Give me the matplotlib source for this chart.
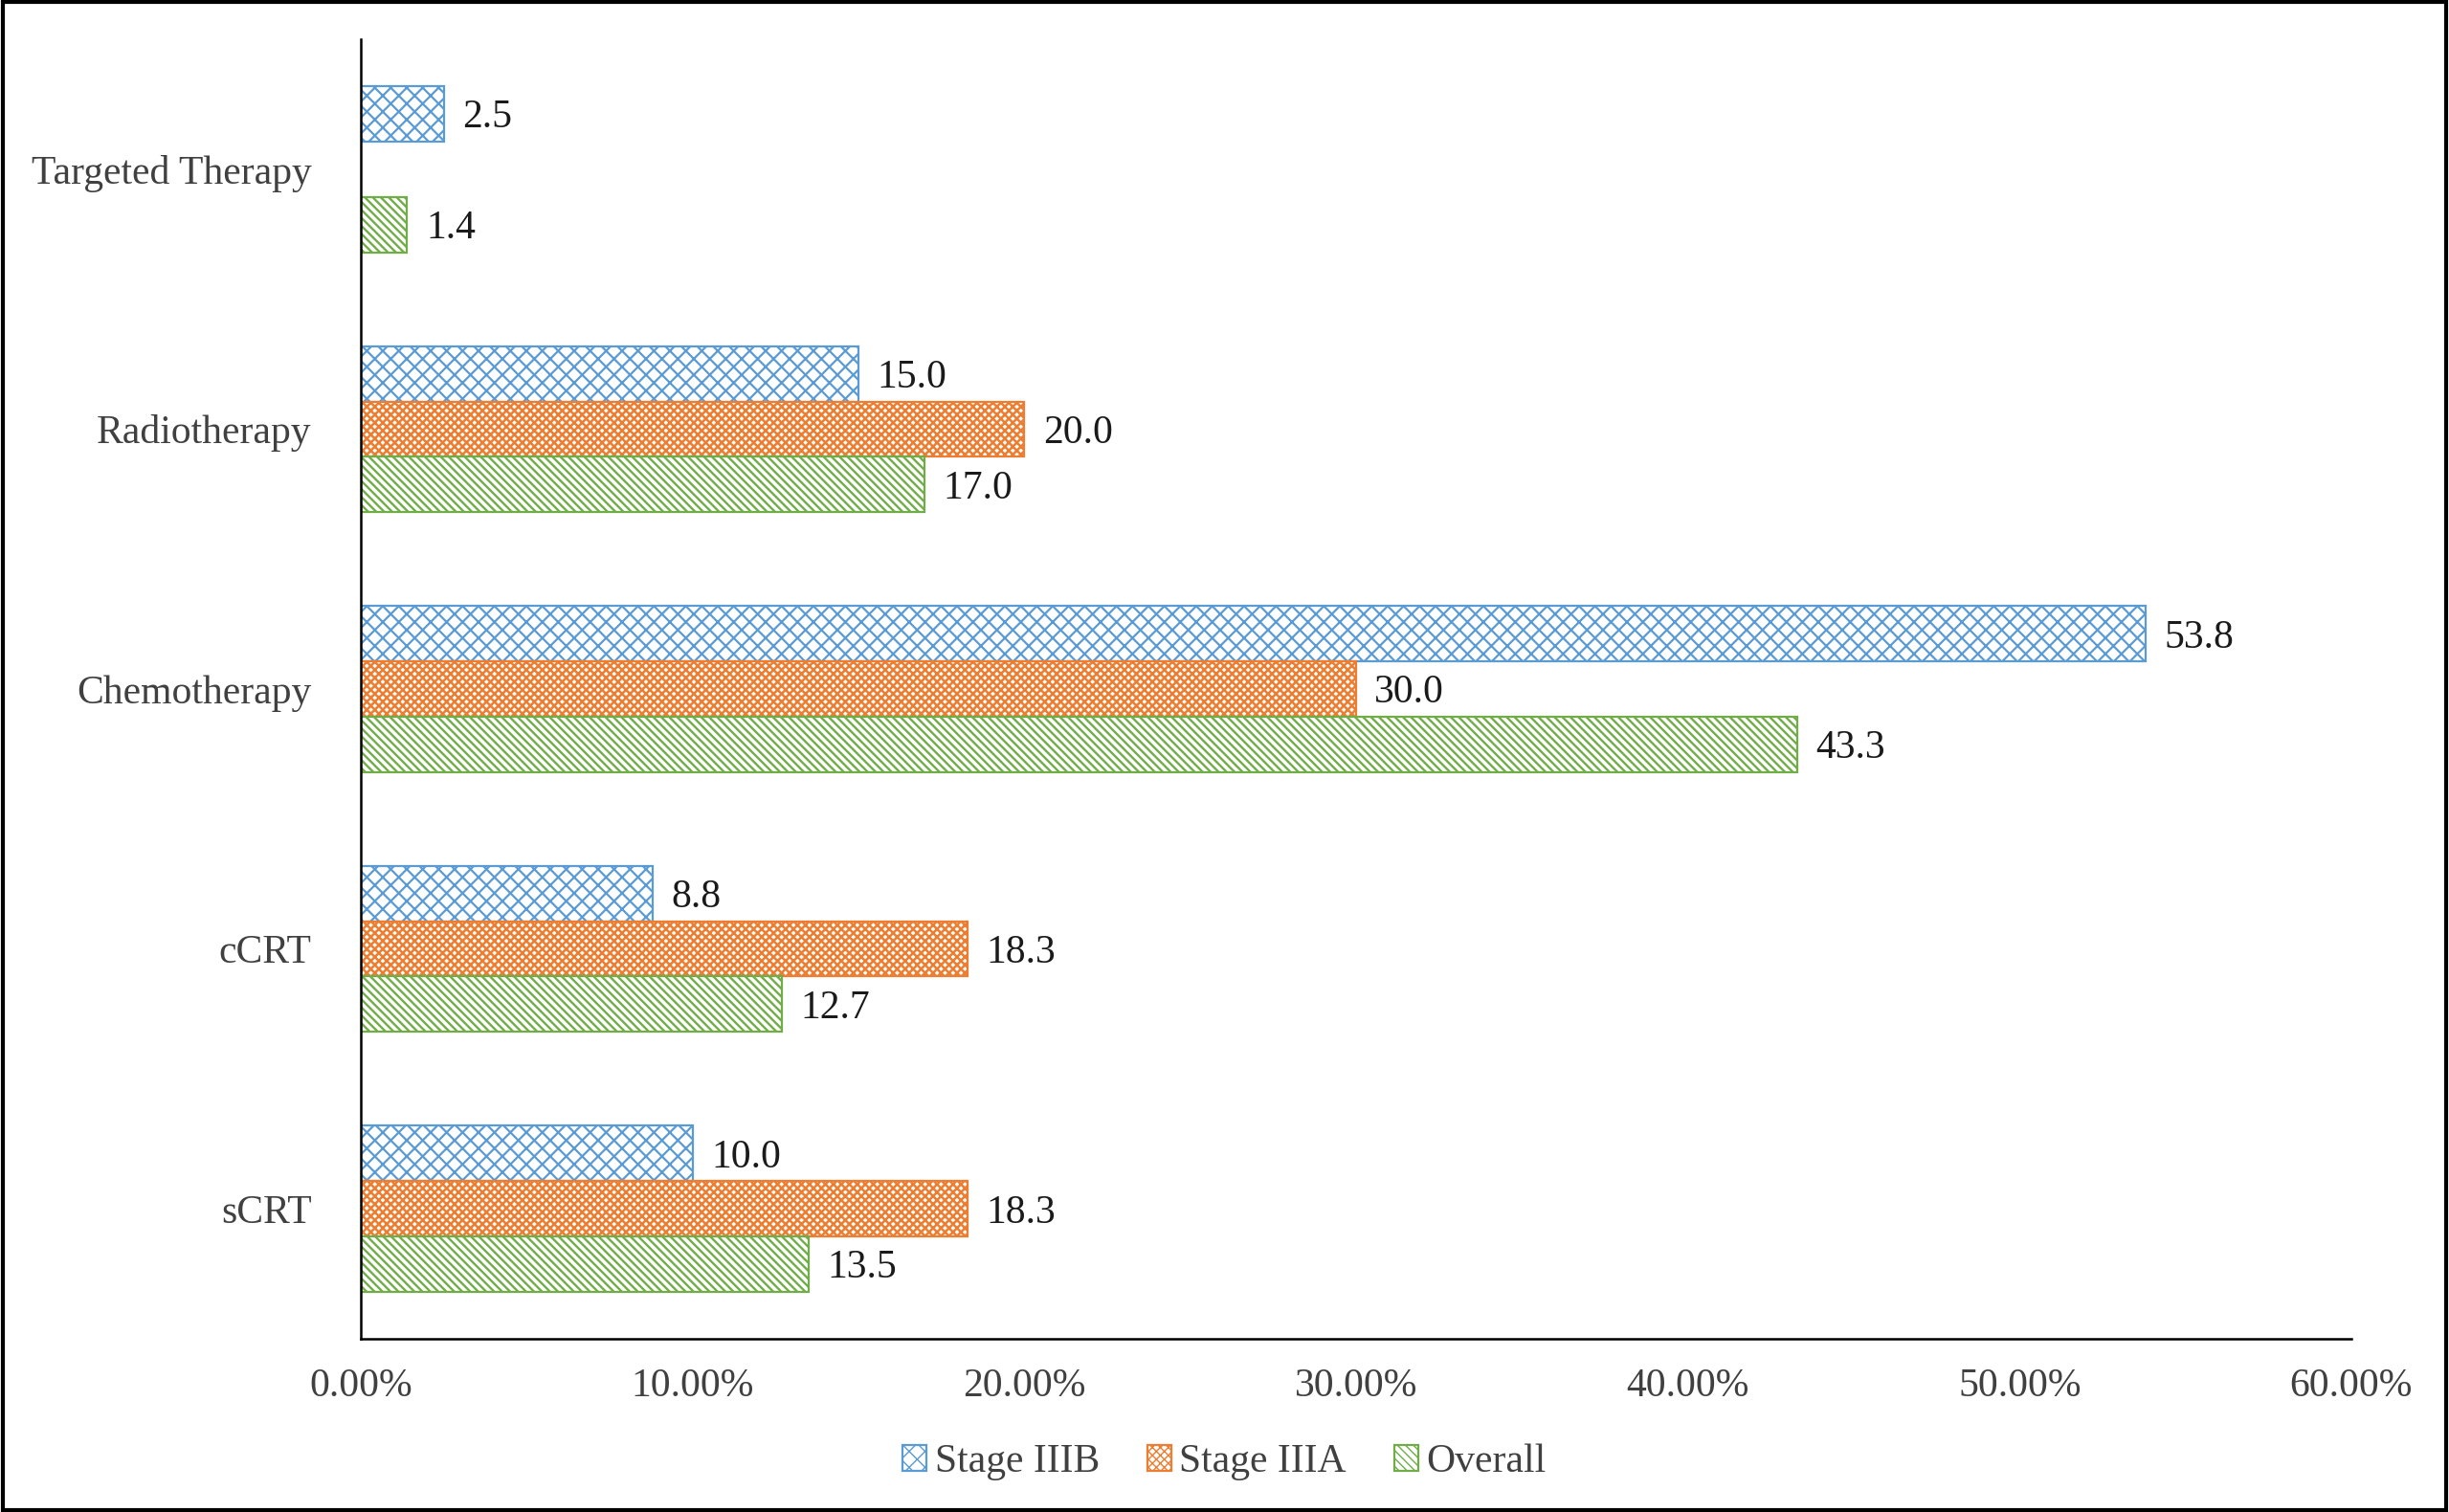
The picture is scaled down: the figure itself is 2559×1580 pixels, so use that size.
import numpy as np
import matplotlib.pyplot as plt
from matplotlib.patches import Rectangle
from matplotlib.ticker import FuncFormatter

categories = ['sCRT', 'cCRT', 'Chemotherapy', 'Radiotherapy', 'Targeted Therapy']
stage_iiib = [10.0, 8.8, 53.8, 15.0, 2.5]
stage_iiia = [18.3, 18.3, 30.0, 20.0, None]
overall = [13.5, 12.7, 43.3, 17.0, 1.4]
series_names = ['Stage IIIB', 'Stage IIIA', 'Overall']

plt.rcParams['font.family'] = ['Liberation Serif', 'DejaVu Serif']

fig = plt.figure(figsize=(25.59, 15.80), dpi=100)
ax = fig.add_axes([0.1473, 0.1146, 0.8128, 0.8594])

y = np.arange(len(categories))
h = 0.213
styles = [('#5B9BD5', 'xx', 1.6), ('#ED7D31', 'xxxx', 1.8), ('#70AD47', '\\\\\\\\', 1.7)]
offsets = [h, 0, -h]

for name, vals, (col, hatch, hlw), off in zip(series_names, [stage_iiib, stage_iiia, overall], styles, offsets):
    ys = [yi + off for yi, v in zip(y, vals) if v is not None]
    vs = [v for v in vals if v is not None]
    with plt.rc_context({'hatch.linewidth': hlw}):
        ax.barh(ys, vs, height=h, facecolor='white', edgecolor=col, hatch=hatch,
                linewidth=1.6, label=name)
    for yy, v in zip(ys, vs):
        ax.annotate(f'{v:.1f}', (v, yy), xytext=(14, -3), textcoords='offset points',
                    va='center', ha='left', fontsize=30, color='#1a1a1a')

ax.set_xlim(0, 60)
ax.set_ylim(-0.5, 4.5)
ax.set_xticks(np.arange(0, 61, 10))
ax.xaxis.set_major_formatter(FuncFormatter(lambda v, p: f'{v:.2f}%'))
ax.set_yticks(y)
ax.set_yticklabels(categories)
ax.tick_params(axis='both', length=0, labelsize=30, colors='#404040')
ax.tick_params(axis='y', pad=37)
ax.tick_params(axis='x', pad=22)
for s in ['top', 'right']:
    ax.spines[s].set_visible(False)
for s in ['left', 'bottom']:
    ax.spines[s].set_linewidth(1.8)
    ax.spines[s].set_color('black')

fig.legend(loc='center', bbox_to_anchor=(0.5, 0.033), ncol=3, frameon=False,
           fontsize=30, handlelength=0.6, handleheight=0.6, handletextpad=0.2,
           columnspacing=1.2, labelcolor='#404040')

fig.patches.append(Rectangle((0.001, 0.001), 0.998, 0.998, transform=fig.transFigure,
                             fill=False, edgecolor='black', linewidth=3))

fig.savefig('out.png', dpi=100)
